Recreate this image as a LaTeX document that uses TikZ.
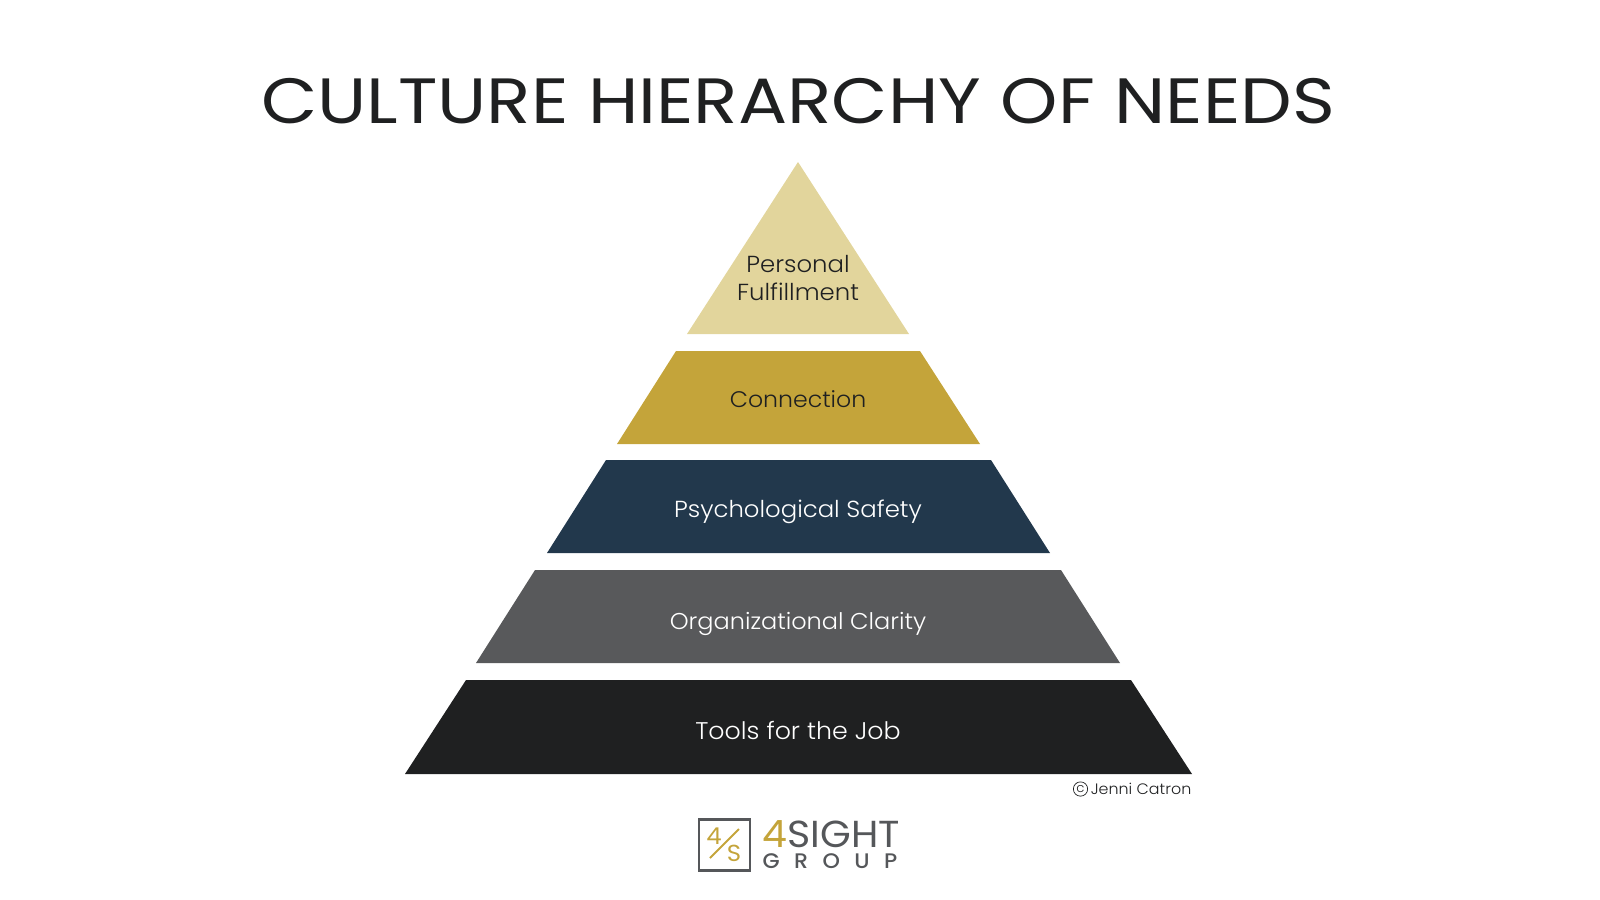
\documentclass[tikz,border=0pt]{standalone}
\usepackage{fontspec}
\usetikzlibrary{positioning}
\setmainfont{Poppins}[UprightFont=* Light,BoldFont=* Medium,FakeStretch=1.05]
\newfontfamily\titlefont{Poppins}[FakeStretch=1.14]
\newfontfamily\sightfont{Poppins}[FakeStretch=1.05]
\definecolor{titleblack}{HTML}{1F2021}
\definecolor{tierpale}{HTML}{E2D59C}
\definecolor{tiergold}{HTML}{C4A43A}
\definecolor{tiernavy}{HTML}{22384C}
\definecolor{tiergrey}{HTML}{58595B}
\definecolor{logogrey}{HTML}{55575A}
\tikzset{
  tiertext/.style={font=\fontsize{6.6}{8}\selectfont,align=center,inner sep=0pt},
  logotext/.style={inner sep=0pt,anchor=base west}
}
\begin{document}
\begin{tikzpicture}[x=0.01cm,y=-0.01cm]
    \useasboundingbox (0,0) rectangle (1600,900);
    \node[inner sep=0pt,text=titleblack,font=\titlefont\fontsize{18.2}{22}\selectfont] (title) at (798,101) {CULTURE HIERARCHY OF NEEDS};
    % tiers
    \fill[tierpale] (798,162) -- (909,334) -- (687,334) -- cycle;
    \fill[tiergold] (676,351) -- (920,351) -- (980,444) -- (617,444) -- cycle;
    \fill[tiernavy] (606,460) -- (991,460) -- (1050,553) -- (547,553) -- cycle;
    \fill[tiergrey] (535,570) -- (1061,570) -- (1120,663) -- (476,663) -- cycle;
    \fill[titleblack] (466,680) -- (1131,680) -- (1192,774) -- (405,774) -- cycle;
    \node[tiertext,text=titleblack] (fulfil) at (798,278) {Personal\\[0.1pt]Fulfillment};
    \node[tiertext,text=titleblack,font=\fontsize{6.4}{8}\selectfont] (connection) at (798,399) {Connection};
    \node[tiertext,text=white] (safety) at (798,512) {Psychological Safety};
    \node[tiertext,text=white,font=\fontsize{6.5}{8}\selectfont] (clarity) at (798,624) {Organizational Clarity};
    \node[tiertext,text=white,font=\fontsize{6.85}{8}\selectfont] (tools) at (798,730) {Tools for the Job};
    % credit
    \node[inner sep=0pt,anchor=east,text=titleblack,font=\fontsize{4.3}{6}\selectfont] (credit) at (1192,789) {Jenni Catron};
    \node[circle,draw=titleblack,line width=0.2pt,inner sep=0.35pt,left=0.6pt of credit,text=titleblack,font=\fontsize{3.6}{4}\selectfont] (copy) {c};
    % logo
    \node[draw=logogrey,line width=0.7pt,inner sep=0pt,minimum size=0.51cm] (logobox) at (724.5,845) {};
    \draw[tiergold,line width=0.55pt] (739,829) -- (710,858);
    \node[inner sep=0pt,text=tiergold,font=\sightfont\fontsize{6.6}{8}\selectfont] (logofour) at (714,836) {4};
    \node[inner sep=0pt,text=tiergold,font=\sightfont\fontsize{6.6}{8}\selectfont] (logoess) at (734,853) {S};
    \node[logotext,font=\sightfont\fontsize{10.7}{12}\selectfont] (sight) at (762,847) {\textcolor{tiergold}{4}\textcolor{logogrey}{SIGHT}};
    \node[logotext,text=logogrey,font=\bfseries\fontsize{6}{7}\selectfont] (group) at (762,868) {G\hspace{4.1pt}R\hspace{4.1pt}O\hspace{4.1pt}U\hspace{4.1pt}P};
\end{tikzpicture}
\end{document}
